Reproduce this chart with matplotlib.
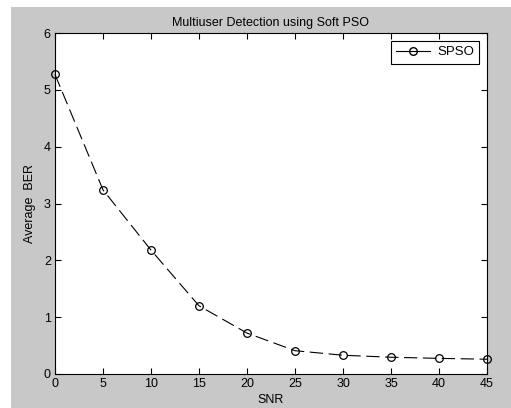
import numpy as np
import matplotlib.pyplot as plt
from matplotlib.patches import Rectangle
from matplotlib.lines import Line2D

plt.rcParams['font.family'] = ['Liberation Sans', 'DejaVu Sans']

# SNR values and average bit error rate
snr = [0, 5, 10, 15, 20, 25, 30, 35, 40, 45]
ber = [5.27, 3.24, 2.18, 1.20, 0.72, 0.41, 0.33, 0.295, 0.275, 0.26]

fig = plt.figure(figsize=(5.11, 4.08), dpi=100, facecolor='white')
# grey figure panel with a thin white margin on top and left
fig.patches.append(Rectangle((11 / 511, 0), 1 - 11 / 511, 1 - 7 / 408,
                             transform=fig.transFigure, facecolor='#c8c8c8',
                             edgecolor='none', zorder=-1))

ax = fig.add_axes([55 / 511, 1 - 374 / 408, 432 / 511, 341 / 408])
ax.plot(snr, ber, color='black', linewidth=0.8, dashes=(12, 5),
        marker='o', markersize=5.5, markerfacecolor='none',
        markeredgecolor='black', markeredgewidth=0.9, clip_on=False)

ax.set_xlim(0, 45)
ax.set_ylim(0, 6)
ax.set_xticks(np.arange(0, 46, 5))
ax.set_yticks(np.arange(0, 7, 1))
ax.tick_params(direction='in', top=True, right=True, length=4,
               labelsize=9, pad=3, width=0.8)
for s in ax.spines.values():
    s.set_linewidth(0.8)

ax.set_title('Multiuser Detection using Soft PSO', fontsize=9, pad=5)
ax.set_xlabel('SNR', fontsize=9, labelpad=2.5)
ax.set_ylabel('Average  BER', fontsize=9, labelpad=6)

handle = Line2D([], [], color='black', linewidth=0.8, marker='o',
                markersize=5.5, markerfacecolor='none', markeredgecolor='black')
leg = ax.legend([handle], ['SPSO'], loc='upper right', fontsize=9.5,
                fancybox=False, framealpha=1, edgecolor='black',
                borderaxespad=0.6, handlelength=2.6, handletextpad=0.5,
                borderpad=0.4)
leg.get_frame().set_linewidth(0.8)

fig.savefig('out.png', dpi=100, facecolor=fig.get_facecolor())
